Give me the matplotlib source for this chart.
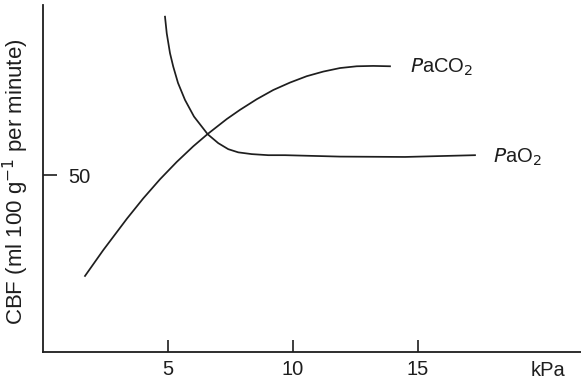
import matplotlib
matplotlib.use("Agg")
from matplotlib import pyplot as plt

plt.rcParams['font.family'] = ['Liberation Sans', 'DejaVu Sans']

# PaCO2 curve (kPa, CBF)
co2_x = [1.68, 2.41, 3.36, 4.01, 4.68, 5.35, 6.01, 6.59, 7.35, 7.88, 8.55, 9.21,
         9.88, 10.55, 11.21, 11.88, 12.55, 13.21, 13.88]
co2_y = [21.5, 28.8, 37.7, 43.4, 48.8, 53.7, 58.1, 61.6, 65.8, 68.4, 71.4, 74.0,
         76.1, 77.9, 79.2, 80.2, 80.7, 80.8, 80.7]

# PaO2 curve
o2_x = [4.88, 4.95, 5.08, 5.21, 5.40, 5.68, 6.04, 6.59, 7.01, 7.41, 7.81, 8.35,
        9.01, 9.68, 11.88, 14.48, 17.28]
o2_y = [94.7, 90.0, 84.4, 80.6, 76.0, 71.2, 66.5, 61.5, 59.0, 57.3, 56.4, 55.9,
        55.6, 55.6, 55.2, 55.1, 55.6]

x_ticks = [5, 10, 15]
y_ticks = [50]

ink = '#1e1e1e'

fig = plt.figure(figsize=(5.81, 3.84), dpi=100)
ax = fig.add_axes([0.074, 0.083, 0.926, 0.904])

ax.plot(co2_x, co2_y, color=ink, lw=1.25, solid_joinstyle='round')
ax.plot(o2_x, o2_y, color=ink, lw=1.25, solid_joinstyle='round')

ax.text(14.7, 80.3, r'$\it{P}$aCO$_2$', fontsize=14.5, va='center', color=ink)
ax.text(18.0, 55.1, r'$\it{P}$aO$_2$', fontsize=14.5, va='center', color=ink)

ax.set_xlim(0, 21.52)
ax.set_ylim(0, 98)

for s in ['top', 'right']:
    ax.spines[s].set_visible(False)
for s in ['left', 'bottom']:
    ax.spines[s].set_linewidth(1.3)
    ax.spines[s].set_color(ink)

ax.set_xticks(x_ticks)
ax.set_yticks(y_ticks)
ax.tick_params(axis='x', direction='in', length=9, width=1.2, color=ink,
               labelsize=14.5, pad=6, labelcolor=ink)
ax.tick_params(axis='y', direction='in', length=10, width=1.2, color=ink,
               labelsize=14.5, pad=-34, labelcolor=ink)

ax.set_xlabel('kPa', fontsize=14.5, color=ink)
ax.xaxis.set_label_coords(0.939, -0.026)
ax.set_ylabel(r'CBF (ml 100 g$^{-1}$ per minute)', fontsize=16, color=ink)
ax.yaxis.set_label_coords(-0.022, 0.49)

fig.savefig('out.png', dpi=100)
